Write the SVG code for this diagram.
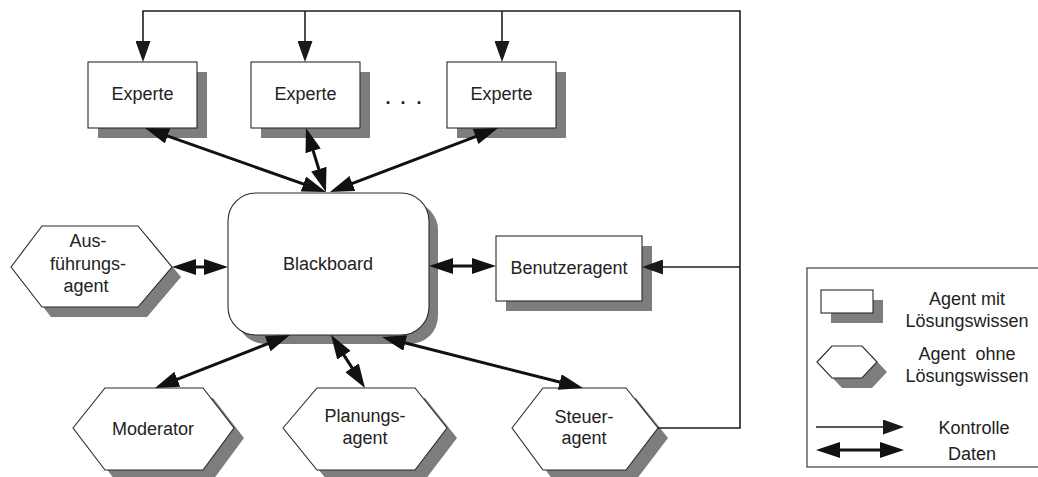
<svg xmlns="http://www.w3.org/2000/svg" width="1038" height="477" viewBox="0 0 1038 477">
  <style>
    .box { fill: #ffffff; stroke: #2a2a2a; stroke-width: 1.1; }
    .shadow { fill: #7d7d80; stroke: none; }
    .lbl { font-family: "Liberation Sans", Arial, sans-serif; font-size: 18px; fill: #222222; text-anchor: middle; }
    .ctrl { fill: none; stroke: #1e1e1e; stroke-width: 1.6; }
    .data { fill: none; stroke: #111111; stroke-width: 3; }
  </style>
  <defs>
    <!-- thin control arrow head -->
    <marker id="ctrlHead" markerUnits="userSpaceOnUse" markerWidth="21" markerHeight="15" viewBox="0 0 21 15" refX="18" refY="7.5" orient="auto-start-reverse">
      <path d="M0,0 L21,7.5 L0,15 z" fill="#1a1a1a"/>
    </marker>
    <!-- heavy data arrow head -->
    <marker id="dataHead" markerUnits="userSpaceOnUse" markerWidth="24" markerHeight="16" viewBox="0 0 24 16" refX="14" refY="8" orient="auto-start-reverse">
      <path d="M0,0 L24,8 L0,16 z" fill="#111111"/>
    </marker>
  </defs>

  <rect width="1038" height="477" fill="#ffffff"/>

  <!-- Expert nodes -->
  <g id="experte1">
    <rect class="shadow" x="98" y="72" width="109" height="66"/>
    <rect class="box" x="88" y="62" width="109" height="66"/>
    <text class="lbl" x="142.5" y="100">Experte</text>
  </g>
  <g id="experte2">
    <rect class="shadow" x="261" y="72" width="109" height="66"/>
    <rect class="box" x="251" y="62" width="109" height="66"/>
    <text class="lbl" x="305.5" y="100">Experte</text>
  </g>
  <g id="ellipsis">
    <text class="lbl" style="font-weight:bold" x="388 403 419" y="104">...</text>
  </g>
  <g id="experte3">
    <rect class="shadow" x="457" y="72" width="109" height="66"/>
    <rect class="box" x="447" y="62" width="109" height="66"/>
    <text class="lbl" x="501.5" y="100">Experte</text>
  </g>

  <!-- Blackboard -->
  <g id="blackboard">
    <rect class="shadow" x="237" y="202" width="201" height="142" rx="28" ry="28"/>
    <rect class="box" x="228" y="193" width="201" height="142" rx="28" ry="28"/>
    <text class="lbl" x="328" y="270">Blackboard</text>
  </g>

  <!-- Execution agent -->
  <g id="ausfuehrungsagent">
    <polygon class="shadow" points="20,277 51,236 147,236 181,277 147,317 51,317"/>
    <polygon class="box" points="11,267 42,226 138,226 172,267 138,307 42,307"/>
    <text class="lbl" x="88" y="247">Aus-</text>
    <text class="lbl" x="88" y="269.5">führungs-</text>
    <text class="lbl" x="86" y="292">agent</text>
  </g>

  <!-- User agent -->
  <g id="benutzeragent">
    <rect class="shadow" x="506" y="246" width="146" height="65"/>
    <rect class="box" x="496" y="236" width="146" height="65"/>
    <text class="lbl" x="569" y="274">Benutzeragent</text>
  </g>

  <!-- Bottom row agents -->
  <g id="moderator">
    <polygon class="shadow" points="83,438 115,398 213,398 244,438 213,480 115,480"/>
    <polygon class="box" points="73,428 105,388 203,388 234,428 203,470 105,470"/>
    <text class="lbl" x="153" y="435">Moderator</text>
  </g>
  <g id="planungsagent">
    <polygon class="shadow" points="293,438 327,398 425,398 457,438 425,480 327,480"/>
    <polygon class="box" points="283,428 317,388 415,388 447,428 415,470 317,470"/>
    <text class="lbl" x="365" y="422">Planungs-</text>
    <text class="lbl" x="365" y="444">agent</text>
  </g>
  <g id="steueragent">
    <polygon class="shadow" points="522,438 553,398 636,398 668,438 636,480 553,480"/>
    <polygon class="box" points="512,428 543,388 626,388 658,428 626,470 543,470"/>
    <text class="lbl" x="584" y="423">Steuer-</text>
    <text class="lbl" x="584" y="444">agent</text>
  </g>

  <!-- Connectors -->
  <g id="connectors">
    <!-- control flow from the steering agent -->
    <path class="ctrl" d="M658,428 H740 V11 H143 V59" marker-end="url(#ctrlHead)"/>
    <path class="ctrl" d="M305,11 V59" marker-end="url(#ctrlHead)"/>
    <path class="ctrl" d="M502,11 V59" marker-end="url(#ctrlHead)"/>
    <path class="ctrl" d="M740,267 H645" marker-end="url(#ctrlHead)"/>

    <!-- data exchange with the blackboard -->
    <line class="data" x1="154.4" y1="131.3" x2="316.6" y2="188.7" marker-start="url(#dataHead)" marker-end="url(#dataHead)"/>
    <line class="data" x1="309.0" y1="137.5" x2="323.0" y2="182.5" marker-start="url(#dataHead)" marker-end="url(#dataHead)"/>
    <line class="data" x1="488.7" y1="131.6" x2="339.3" y2="188.4" marker-start="url(#dataHead)" marker-end="url(#dataHead)"/>
    <line class="data" x1="182" y1="267" x2="218" y2="267" marker-start="url(#dataHead)" marker-end="url(#dataHead)"/>
    <line class="data" x1="439" y1="266" x2="486" y2="266" marker-start="url(#dataHead)" marker-end="url(#dataHead)"/>
    <line class="data" x1="164.3" y1="384.3" x2="280.7" y2="338.7" marker-start="url(#dataHead)" marker-end="url(#dataHead)"/>
    <line class="data" x1="359.6" y1="379.6" x2="336.4" y2="343.4" marker-start="url(#dataHead)" marker-end="url(#dataHead)"/>
    <line class="data" x1="573.3" y1="385.5" x2="391.7" y2="339.5" marker-start="url(#dataHead)" marker-end="url(#dataHead)"/>
  </g>

  <!-- Legend -->
  <g id="legend">
    <rect x="807" y="268" width="240" height="199" fill="#ffffff" stroke="#2a2a2a" stroke-width="1.1"/>
    <rect class="shadow" x="831" y="300" width="52" height="23"/>
    <rect class="box" x="821" y="290" width="52" height="23"/>
    <text class="lbl" x="967" y="305">Agent mit</text>
    <text class="lbl" x="967" y="327">Lösungswissen</text>
    <polygon class="shadow" points="827,372 842,356 872,356 887,372 872,388 842,388"/>
    <polygon class="box" points="817,362 832,346 862,346 877,362 862,378 832,378"/>
    <text class="lbl" x="967" y="360" style="white-space:pre">Agent  ohne</text>
    <text class="lbl" x="967" y="382">Lösungswissen</text>
    <path class="ctrl" d="M816,427 H901" marker-end="url(#ctrlHead)"/>
    <text class="lbl" x="974" y="434">Kontrolle</text>
    <line class="data" x1="826" y1="450" x2="894" y2="450" marker-start="url(#dataHead)" marker-end="url(#dataHead)"/>
    <text class="lbl" x="972" y="460">Daten</text>
  </g>
</svg>
